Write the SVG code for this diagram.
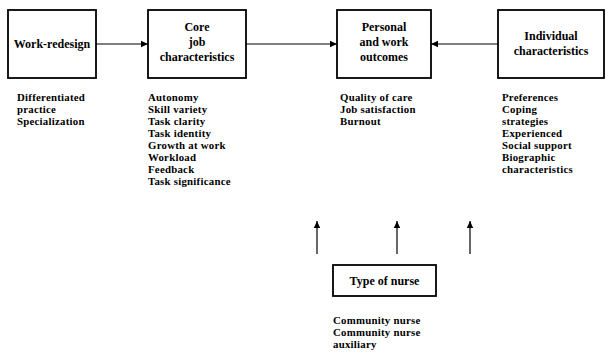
<svg xmlns="http://www.w3.org/2000/svg" width="612" height="353" viewBox="0 0 612 353">
<style>
.box{fill:#fff;stroke:#000;stroke-width:1.8}
.t{font-family:"Liberation Serif","Times New Roman",serif;font-weight:bold;font-size:12px;fill:#000}
.l{font-family:"Liberation Serif","Times New Roman",serif;font-weight:bold;font-size:10.8px;letter-spacing:0.25px;fill:#000}
.c{text-anchor:middle}
.conn{stroke:#000;stroke-width:1.2;fill:none}
</style>
<defs>
<marker id="ah" markerWidth="8" markerHeight="8" refX="7" refY="4" orient="auto" markerUnits="userSpaceOnUse">
<path d="M0,0.8 L7,4 L0,7.2 Z" fill="#000"/>
</marker>
</defs>
<rect width="612" height="353" fill="#fff"/>
<g id="work-redesign">
<rect class="box" x="8" y="10" width="88" height="68"/>
<text class="t c" x="52" y="48">Work-redesign</text>
<text class="l" x="17" y="101">Differentiated</text>
<text class="l" x="17" y="113">practice</text>
<text class="l" x="17" y="125">Specialization</text>
</g>
<g id="core">
<rect class="box" x="148" y="10" width="98" height="68"/>
<text class="t c" x="197" y="31">Core</text>
<text class="t c" x="197" y="46">job</text>
<text class="t c" x="197" y="61">characteristics</text>
<text class="l" x="148" y="101">Autonomy</text>
<text class="l" x="148" y="113">Skill variety</text>
<text class="l" x="148" y="125">Task clarity</text>
<text class="l" x="148" y="137">Task identity</text>
<text class="l" x="148" y="149">Growth at work</text>
<text class="l" x="148" y="161">Workload</text>
<text class="l" x="148" y="173">Feedback</text>
<text class="l" x="148" y="185">Task significance</text>
</g>
<g id="outcomes">
<rect class="box" x="337" y="10" width="94" height="68"/>
<text class="t c" x="384" y="31">Personal</text>
<text class="t c" x="384" y="46">and work</text>
<text class="t c" x="384" y="61">outcomes</text>
<text class="l" x="340" y="101">Quality of care</text>
<text class="l" x="340" y="113">Job satisfaction</text>
<text class="l" x="340" y="125">Burnout</text>
</g>
<g id="individual">
<rect class="box" x="498" y="10" width="106" height="68"/>
<text class="t c" x="551" y="40">Individual</text>
<text class="t c" x="551" y="55">characteristics</text>
<text class="l" x="502" y="101">Preferences</text>
<text class="l" x="502" y="113">Coping</text>
<text class="l" x="502" y="125">strategies</text>
<text class="l" x="502" y="137">Experienced</text>
<text class="l" x="502" y="149">Social support</text>
<text class="l" x="502" y="161">Biographic</text>
<text class="l" x="502" y="173">characteristics</text>
</g>
<g id="nurse">
<rect class="box" x="333" y="265" width="103" height="31"/>
<text class="t c" x="384.5" y="285">Type of nurse</text>
<text class="l" x="333" y="324">Community nurse</text>
<text class="l" x="333" y="336">Community nurse</text>
<text class="l" x="333" y="348">auxiliary</text>
</g>
<g id="connectors">
<line class="conn" x1="96" y1="44" x2="148" y2="44" marker-end="url(#ah)"/>
<line class="conn" x1="246" y1="44" x2="337" y2="44" marker-end="url(#ah)"/>
<line class="conn" x1="498" y1="44" x2="431" y2="44" marker-end="url(#ah)"/>
<line class="conn" x1="317" y1="254" x2="317" y2="221" marker-end="url(#ah)"/>
<line class="conn" x1="397" y1="254" x2="397" y2="221" marker-end="url(#ah)"/>
<line class="conn" x1="470" y1="254" x2="470" y2="221" marker-end="url(#ah)"/>
</g>
</svg>
